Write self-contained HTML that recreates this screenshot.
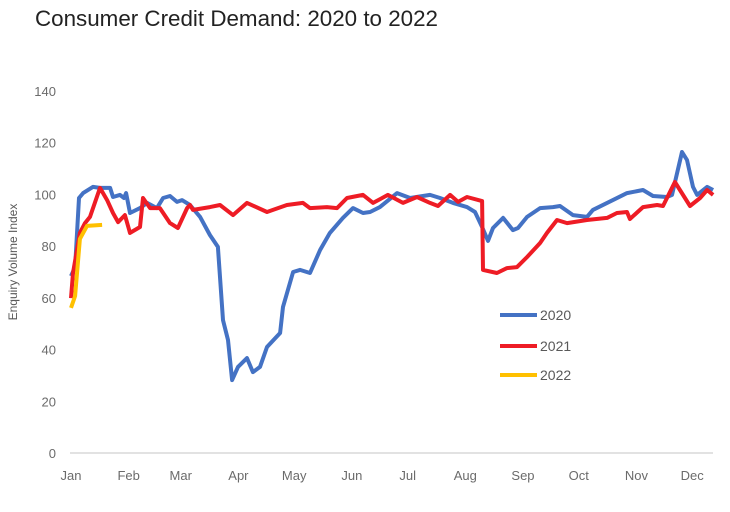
<!DOCTYPE html>
<html><head><meta charset="utf-8"><style>
body{margin:0;background:#fff;width:730px;height:507px;overflow:hidden;font-family:"Liberation Sans",sans-serif}
</style></head><body>
<svg id="chart" width="730" height="507" xmlns="http://www.w3.org/2000/svg">
<text x="35" y="26" font-size="22" fill="#222" textLength="403" lengthAdjust="spacingAndGlyphs">Consumer Credit Demand: 2020 to 2022</text>
<text transform="translate(17,262) rotate(-90)" text-anchor="middle" font-size="12" fill="#595959">Enquiry Volume Index</text>
<g id="yticks"></g><g id="xticks"></g>
<line x1="70" y1="453" x2="713" y2="453" stroke="#d9d9d9" stroke-width="1.5"/>
<g id="series"></g>
<g id="legend"></g>
</svg>
<script>
const yTicks=[0,20,40,60,80,100,120,140];
const months=["Jan","Feb","Mar","Apr","May","Jun","Jul","Aug","Sep","Oct","Nov","Dec"];
const monthDays=[0,31,59,90,120,151,181,212,243,273,304,334];
const days2020=[0,2.2,4.3,6.5,11.8,15.6,21,22.6,26.3,28.5,29.6,31.7,37.1,40.9,46.2,49.5,53.2,57,59.7,64,69.4,74.7,79,81.7,84.4,86.6,89.8,94.6,97.8,101.6,105.4,112.4,114,119.4,123.1,128.5,133.9,139.2,146.2,151.6,157,160.8,166.1,175.3,182.3,193,198.4,205.4,212.9,217.2,221,224.2,226.9,232.3,237.6,240.3,245.2,252.2,259.1,262.9,269.9,277.4,280.6,288.2,298.9,307.5,312.9,320.4,323.1,328.5,331.2,334.4,336.6,342,345.2];
const vals2020=[68.4,71.9,98.6,100.5,102.9,102.5,102.5,99,99.8,98.6,100.5,92.8,94.7,96.7,94.7,98.6,99.4,97.1,97.8,95.9,91.3,84.3,79.7,51.4,43.7,28.2,33.3,36.7,31.3,33.3,41,46.4,56.5,70,70.8,69.6,78.5,85.1,90.9,94.7,92.8,93.2,95.1,100.5,98.6,99.8,98.6,96.7,95.1,93.2,87.4,82,87,90.9,86.2,87,91.3,94.7,95.1,95.5,92,91.3,94,96.7,100.5,101.7,99.4,99,99.8,116.4,113.3,102.9,99.8,102.9,101.7];
const days2021=[0,1.1,4.8,7.5,10.2,15.6,19.4,22.6,25.3,29,31.7,37.1,38.7,42.5,47.8,53.2,57.5,62.4,64,65.6,74.7,80.1,87.1,94.6,105.4,108.6,116.1,124.7,128.5,137.6,143,148.4,157,162.4,170.4,178.5,186,193,197.3,203.8,208.1,212.9,221,221.5,229,234.4,239.8,245.2,252.2,255.9,261.3,266.7,277.4,288.2,293.5,298.9,300.5,307.5,315.1,318.3,324.7,332.8,338.2,342,345.2];
const vals2021=[59.9,69.6,85.1,88.9,91.3,102.5,97.8,92.8,89.3,92,85.1,87.4,98.6,94.7,94.7,88.9,87,94.7,95.9,94,95.1,95.9,92,96.7,93.2,94,95.9,96.7,94.7,95.1,94.7,98.6,99.8,96.7,99.8,96.7,99,96.7,95.5,99.8,97.1,99,97.4,70.8,69.6,71.5,71.9,75.8,81.2,85.1,90.1,88.9,90.1,90.9,92.8,93.2,90.5,95.1,95.9,95.5,104.8,95.5,98.6,101.7,99.8];
const days2022=[0,2.2,4.8,8.6,16.7];
const vals2022=[56.1,60.7,82.8,87.8,88.2];
const NS="http://www.w3.org/2000/svg";
function xs(d){return 71+d*1.86;}
function ys(v){return 453-v*2.586;}
const yt=document.getElementById('yticks');
yTicks.forEach(t=>{const e=document.createElementNS(NS,'text');e.setAttribute('x',56);e.setAttribute('y',ys(t)+5);e.setAttribute('text-anchor','end');e.setAttribute('font-size','13');e.setAttribute('fill','#6b6b6b');e.textContent=t;


yt.appendChild(e);});
const xt=document.getElementById('xticks');
months.forEach((m,i)=>{const e=document.createElementNS(NS,'text');e.setAttribute('x',xs(monthDays[i]));e.setAttribute('y',480);e.setAttribute('text-anchor','middle');e.setAttribute('font-size','13');e.setAttribute('fill','#6b6b6b');e.textContent=m;


xt.appendChild(e);});
const sg=document.getElementById('series');
function line(ds,vs,col,name){const p=document.createElementNS(NS,'polyline');p.setAttribute('points',ds.map((d,i)=>xs(d).toFixed(1)+','+ys(vs[i]).toFixed(1)).join(' '));p.setAttribute('fill','none');p.setAttribute('stroke',col);p.setAttribute('stroke-width','4');p.setAttribute('stroke-linejoin','round');


sg.appendChild(p);}
line(days2020,vals2020,'#4472c4','series-2020-line');
line(days2021,vals2021,'#ee1c25','series-2021-line');
line(days2022,vals2022,'#ffc000','series-2022-line');
const lg=document.getElementById('legend');
[['2020','#4472c4',315],['2021','#ee1c25',346],['2022','#ffc000',375]].forEach(r=>{
const g=document.createElementNS(NS,'g');


const l=document.createElementNS(NS,'line');l.setAttribute('x1',500);l.setAttribute('x2',537);l.setAttribute('y1',r[2]);l.setAttribute('y2',r[2]);l.setAttribute('stroke',r[1]);l.setAttribute('stroke-width','4');g.appendChild(l);
const t=document.createElementNS(NS,'text');t.setAttribute('x',540);t.setAttribute('y',r[2]+5);t.setAttribute('font-size','14');t.setAttribute('fill','#595959');t.textContent=r[0];g.appendChild(t);
lg.appendChild(g);});
</script>
</body></html>
